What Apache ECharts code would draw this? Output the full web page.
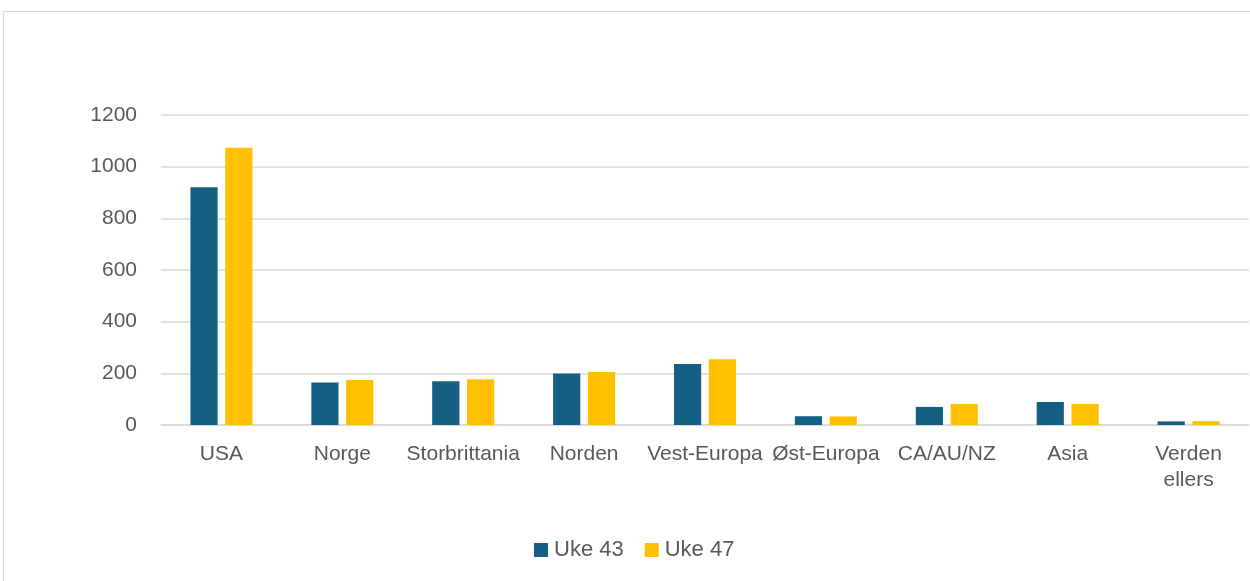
<!DOCTYPE html>
<html>
<head>
<meta charset="utf-8">
<script src="https://cdn.jsdelivr.net/npm/echarts@6/dist/echarts.min.js"></script>
<style>
html,body{margin:0;padding:0;background:#fff;}
#main{width:1250px;height:581px;}
</style>
</head>
<body>
<div id="main"></div>
<script>
const categories = ['USA','Norge','Storbrittania','Norden','Vest-Europa','Øst-Europa','CA/AU/NZ','Asia','Verden ellers'];
const uke43 = [920,165,169,199,236,34,70,89,14];
const uke47 = [1073,174,177,205,255,33,81,81,15];
const seriesNames = ['Uke 43','Uke 47'];

const chart = echarts.init(document.getElementById('main'));
const font = 'Liberation Sans, Arial, sans-serif';
chart.setOption({
  animation:false,
  textStyle:{fontFamily:font},
  graphic:[{type:'rect',shape:{x:3.5,y:11.5,width:1300,height:620},style:{fill:'none',stroke:'#d9d9d9',lineWidth:1},silent:true}],
  grid:{left:161,right:1,top:115,bottom:156,containLabel:false},
  legend:{
    data:seriesNames,
    top:534,left:529,
    itemWidth:14,itemHeight:14,itemGap:21,
    icon:'rect',
    textStyle:{fontSize:22,color:'#595959',fontFamily:font,padding:[0,0,0,1]}
  },
  xAxis:{
    type:'category',data:categories,
    axisLine:{lineStyle:{color:'#d9d9d9',width:1.5}},
    axisTick:{show:false},
    axisLabel:{color:'#595959',fontSize:21,margin:16,lineHeight:26,interval:0,
      formatter:v=>v.replace(' ','\n')}
  },
  yAxis:{
    type:'value',min:0,max:1200,interval:200,
    axisLine:{show:false},axisTick:{show:false},
    axisLabel:{color:'#595959',fontSize:21,margin:24,formatter:v=>String(v)},
    splitLine:{lineStyle:{color:'#d9d9d9',width:1.5}}
  },
  series:[
    {name:seriesNames[0],type:'bar',data:uke43,barWidth:'22.5%',barGap:'28%',itemStyle:{color:'#156082'}},
    {name:seriesNames[1],type:'bar',data:uke47,barWidth:'22.5%',barGap:'28%',itemStyle:{color:'#FFC000'}}
  ]
});
</script>
</body>
</html>
